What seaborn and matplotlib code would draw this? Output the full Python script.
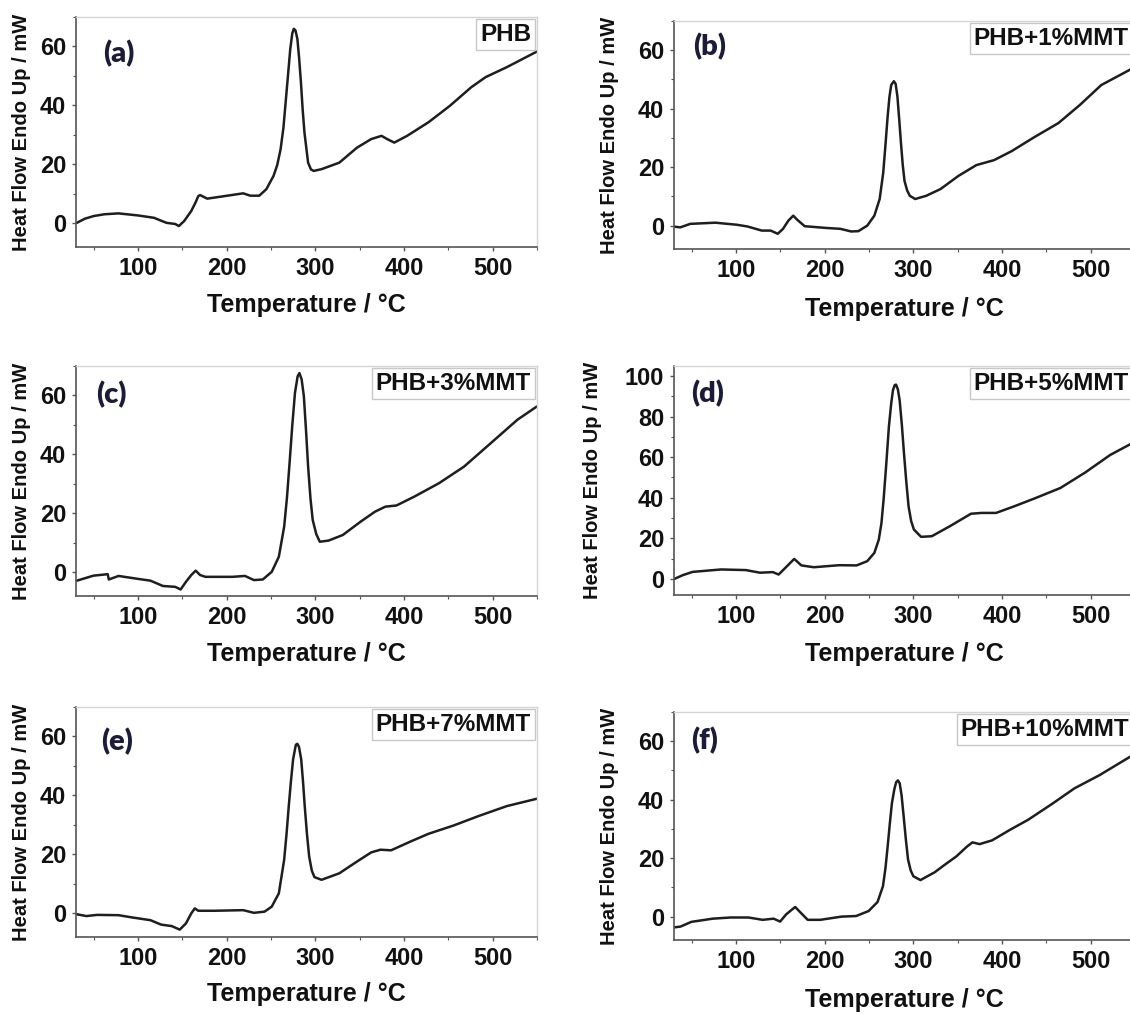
import matplotlib
matplotlib.use("Agg")
import matplotlib.pyplot as plt
import seaborn as sns
from matplotlib.ticker import MultipleLocator

# DSC curves: temperature (C) and heat flow (mW)
temp_a = [31, 40, 50, 62, 78, 100, 118, 132, 142, 146, 152, 160, 165, 168, 170, 178, 194, 218.6, 226.6, 236.7,
          244.7, 252.8, 257, 260.8, 264, 266.8, 269.5, 271.7, 274, 275.7, 277.5, 279.7, 281.7, 283.7, 285.7,
          287.7, 291.8, 295, 298.2, 307, 327, 347, 363, 374.6, 381, 389, 403.5, 427.6, 451.8, 475.9, 492, 516, 550]
hf_a = [0.2, 1.6, 2.5, 3.1, 3.4, 2.7, 1.9, 0.2, -0.2, -0.9, 0.8, 4.2, 7.2, 9.3, 9.6, 8.4, 9.1, 10.2, 9.4, 9.4,
        11.6, 16.1, 19.8, 25.2, 32.5, 42.2, 51.5, 59.2, 64.5, 66.0, 65.5, 62.6, 56.0, 47.9, 38.5,
        30.8, 20.6, 18.3, 17.8, 18.4, 20.6, 25.7, 28.6, 29.7, 28.6, 27.4, 29.7, 34.3, 39.9, 46.2, 49.6, 53.0, 58.3]

temp_b = [29, 37, 48.4, 76.6, 100.8, 112.9, 129, 139, 147, 153, 159, 164.5, 169, 177.4, 201.6, 217.7, 229.8,
          237.9, 248, 256, 262, 266, 268.5, 271, 273, 275, 278, 280, 282, 284, 286, 288, 290, 293, 296, 302,
          314.5, 330.6, 350.8, 371, 391, 411, 435, 463.7, 487.9, 512, 543.5, 550]
hf_b = [-0.3, -0.6, 0.6, 1.0, 0.3, -0.3, -1.7, -1.7, -2.8, -1.1, 1.7, 3.4, 2.0, -0.2, -0.8, -1.1, -2.0,
        -1.9, 0.0, 3.4, 9.1, 18.1, 27.5, 37.4, 44.0, 48.1, 49.4, 48.5, 44.2, 36.5, 28.3, 20.8, 15.3, 12.0, 10.2, 9.1,
        10.2, 12.5, 17.0, 20.7, 22.4, 25.5, 30.0, 35.1, 41.3, 48.1, 53.2, 54.5]

temp_c = [31, 49.7, 65.8, 67, 78, 100, 114, 128, 142, 148, 154, 160, 165, 170, 176, 206.5, 220.6, 230.7,
          240.7, 250.8, 258.8, 264.8, 268, 270.9, 274, 277, 280, 282, 284.5, 287, 289.5, 291.8, 294.5, 297, 301,
          305, 315, 331, 351, 367.3, 379, 391.5, 411.6, 439.7, 467.8, 500, 528, 550]
hf_c = [-2.8, -1.1, -0.6, -2.4, -1.2, -2.2, -2.8, -4.6, -4.9, -5.8, -3.2, -0.9, 0.6, -0.9, -1.5, -1.5, -1.2, -2.6,
        -2.4, 0.2, 5.3, 15.5, 25.5, 37.1, 50.0, 60.9, 66.5, 67.6, 65.5, 59.8, 48.0, 36.0, 25.0, 17.8, 13.0,
        10.4, 10.8, 12.7, 17.2, 20.6, 22.3, 22.7, 25.7, 30.3, 35.9, 44.4, 51.8, 56.3]

temp_d = [30.7, 40, 50.9, 83, 111, 127, 141.5, 148, 155.6, 165.6, 173.7, 187.8, 216, 236, 248, 256, 261, 264,
          266.4, 269.5, 272.4, 275, 277, 279, 280.5, 282.5, 284.5, 287, 289.4, 292, 294.6, 297.5, 300.6, 308.7,
          320.8, 341, 365, 377, 393.3, 413.4, 437.6, 465.8, 494, 522, 545.5, 550]
hf_d = [0.0, 1.8, 3.4, 4.6, 4.3, 3.0, 3.3, 2.1, 5.4, 9.8, 6.6, 5.7, 6.7, 6.6, 8.7, 12.8, 19.3, 27.5,
        39.0, 57.0, 75.1, 86.5, 93.1, 95.6, 95.8, 93.5, 88.2, 76.0, 62.0, 48.0, 35.7, 28.5, 24.3, 20.7,
        21.0, 25.9, 32.1, 32.5, 32.5, 35.7, 39.8, 44.8, 52.5, 61.1, 66.6, 67.5]

temp_e = [31, 41.7, 53.8, 77.9, 94, 114, 126, 138, 147, 154, 160, 164, 168, 186, 218.6, 230.7, 242.7, 250.8,
          258.8, 264.8, 267.5, 270, 272.5, 274.9, 278, 279.7, 281.5, 284, 286, 288, 290.5, 293, 296, 299, 307,
          327, 347, 363, 373.4, 385.4, 407.5, 427.6, 455.8, 483.9, 516, 550]
hf_e = [-0.3, -0.9, -0.5, -0.6, -1.4, -2.3, -3.8, -4.3, -5.5, -3.4, 0.0, 1.7, 0.9, 0.9, 1.1, 0.2, 0.6, 2.3,
        6.8, 18.2, 27.0, 36.4, 45.0, 52.3, 57.2, 57.5, 56.5, 52.3, 45.0, 36.4, 27.0, 19.3, 14.5, 12.3, 11.4,
        13.6, 17.6, 20.7, 21.6, 21.4, 24.4, 27.0, 29.8, 33.0, 36.4, 38.9]

temp_f = [30, 37.4, 49.5, 73.7, 93.9, 114, 130, 142.4, 149.7, 156.6, 166.7, 172.7, 180.8, 195, 219, 235.4,
          249.5, 259.6, 265.7, 268.5, 271, 273.5, 275.8, 278.5, 280.6, 282.6, 284.6, 286.7, 288.7, 291.5, 294, 297,
          300, 308, 324.2, 334.3, 348.5, 360.6, 366.7, 374.7, 388.9, 409, 429.3, 457.6, 481.8, 510, 545.6, 550]
hf_f = [-3.7, -3.4, -1.8, -0.7, -0.3, -0.3, -1.1, -0.7, -1.7, 0.8, 3.3, 1.4, -1.1, -1.1, 0.0, 0.2,
        1.9, 5.0, 10.4, 16.5, 24.0, 32.0, 38.8, 43.5, 46.0, 46.6, 45.6, 41.5, 35.4, 26.5, 19.5, 15.8,
        13.8, 12.5, 15.2, 17.5, 20.6, 24.0, 25.4, 24.8, 26.1, 29.7, 33.1, 38.8, 43.9, 48.4, 54.9, 55.5]

panel_tags = ["(a)", "(b)", "(c)", "(d)", "(e)", "(f)"]
sample_names = ["PHB", "PHB+1%MMT", "PHB+3%MMT", "PHB+5%MMT", "PHB+7%MMT", "PHB+10%MMT"]
temps = [temp_a, temp_b, temp_c, temp_d, temp_e, temp_f]
flows = [hf_a, hf_b, hf_c, hf_d, hf_e, hf_f]
y_tops = [70, 70, 70, 105, 70, 70]

sns.set_style("ticks")
plt.rcParams["font.family"] = ["Liberation Sans", "DejaVu Sans"]
plt.rcParams["font.weight"] = "bold"
plt.rcParams["axes.labelweight"] = "bold"

W, H = 1130, 1015
fig = plt.figure(figsize=(W / 100, H / 100), dpi=100)

# axes boxes in pixels: left, top, right, bottom  (right column runs off the image edge)
boxes = [(76, 17, 537, 247), (674, 21, 1135, 249),
         (76, 366, 537, 596), (674, 366, 1135, 595),
         (76, 707, 537, 937), (674, 712, 1135, 940)]
ylab_x = [-0.097, -0.119, -0.097, -0.156, -0.097, -0.119]
xlab_off = [46, 48, 46, 47, 45, 48]
tag_pos = [(0.059, 0.84), (0.041, 0.886), (0.044, 0.874), (0.037, 0.881), (0.054, 0.848), (0.038, 0.876)]

dark = "#555555"
for i in range(6):
    l, t, r, b = boxes[i]
    ax = fig.add_axes([l / W, 1 - b / H, (r - l) / W, (b - t) / H])
    sns.lineplot(x=temps[i], y=flows[i], ax=ax, color="#1e1e1e", linewidth=1.8,
                 estimator=None, sort=False)
    ax.set_xlim(30, 550)
    ax.set_ylim(-8, y_tops[i])
    ax.xaxis.set_major_locator(MultipleLocator(100))
    ax.xaxis.set_minor_locator(MultipleLocator(50))
    ax.yaxis.set_major_locator(MultipleLocator(20))
    ax.yaxis.set_minor_locator(MultipleLocator(10))
    ax.tick_params(which="major", direction="out", length=3, width=1, color=dark,
                   labelsize=17, pad=4, labelcolor="#111111")
    ax.tick_params(which="minor", direction="out", length=2, width=0.8, color=dark)
    for side in ["left", "bottom"]:
        ax.spines[side].set_color(dark)
        ax.spines[side].set_linewidth(1.2)
    for side in ["top", "right"]:
        ax.spines[side].set_color("#d4d4d4")
        ax.spines[side].set_linewidth(1.0)

    ax.set_xlabel("Temperature / \u00b0C", fontsize=18, fontweight="bold", color="#111111")
    ax.xaxis.set_label_coords(0.5, -xlab_off[i] / (b - t))
    ax.set_ylabel("Heat Flow Endo Up / mW", fontsize=14.5, fontweight="bold", color="#111111")
    ax.yaxis.set_label_coords(ylab_x[i], 0.5)

    ax.text(tag_pos[i][0], tag_pos[i][1], panel_tags[i], transform=ax.transAxes,
            ha="left", va="center", fontsize=21, fontweight="heavy",
            family=["Lato", "DejaVu Sans"], color="#1c1c3a")
    ax.text(1 - 6 / (r - l), 1 - 6 / (b - t), sample_names[i], transform=ax.transAxes,
            ha="right", va="top", fontsize=17.5, fontweight="bold", color="#111111",
            bbox=dict(boxstyle="square,pad=0.15", fc="white", ec="#c8c8c8", lw=1))

fig.savefig("out.png", dpi=100)
